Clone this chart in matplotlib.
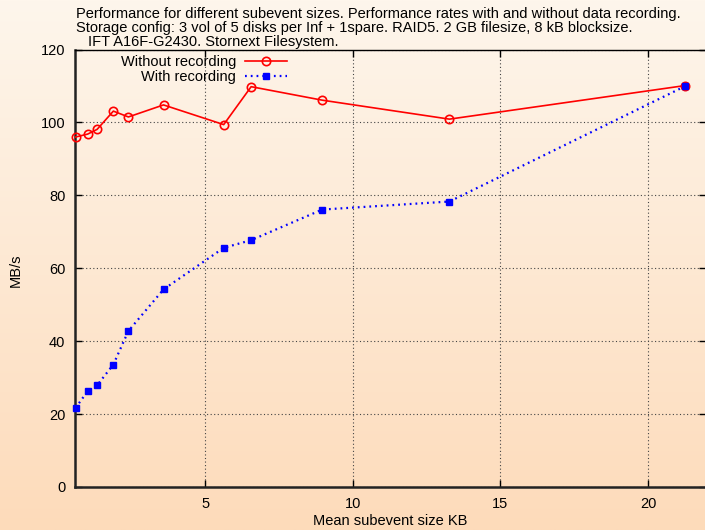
import numpy as np
import matplotlib.pyplot as plt

plt.rcParams['font.family'] = ['Liberation Sans', 'DejaVu Sans']

# mean subevent size (KB) and throughput (MB/s)
subevent_kb = [0.60, 1.01, 1.33, 1.88, 2.39, 3.58, 5.62, 6.55, 8.96, 13.27, 21.25]
rate_without = [96.0, 96.8, 98.1, 103.1, 101.5, 104.8, 99.4, 109.8, 106.1, 100.9, 110.1]
rate_with = [21.7, 26.3, 27.9, 33.6, 42.8, 54.2, 65.6, 67.7, 76.1, 78.3, 109.9]

series_names = ["Without recording", "With recording"]
x_ticks = [5, 10, 15, 20]
y_ticks = [0, 20, 40, 60, 80, 100, 120]

title_lines = [
    "Performance for different subevent sizes. Performance rates with and without data recording.",
    "Storage config: 3 vol of 5 disks per Inf + 1spare. RAID5. 2 GB filesize, 8 kB blocksize.",
    "IFT A16F-G2430. Stornext Filesystem.",
]

FS = 10.5
W, H = 705, 530
fig = plt.figure(figsize=(W / 100, H / 100), dpi=100)

# vertical background gradient, light cream at top to peach at bottom
bg = fig.add_axes([0, 0, 1, 1], zorder=-10)
top = np.array([254, 246, 236]) / 255
bottom = np.array([253, 219, 186]) / 255
t = np.linspace(0, 1, 256)[:, None, None]
grad = top * (1 - t) + bottom * t
bg.imshow(np.repeat(grad, 2, axis=1), aspect='auto', extent=[0, 1, 0, 1])
bg.axis('off')

left, right = 75 / W, 1.002
y_top, y_bot = 49.5, 487
ax = fig.add_axes([left, 1 - y_bot / H, right - left, (y_bot - y_top) / H])
ax.set_facecolor('none')

ax.plot(subevent_kb, rate_without, color='#ff0000', lw=1.2, marker='o',
        ms=6, mfc='none', mec='#ff0000', mew=1.2, label=series_names[0],
        clip_on=False, zorder=3)
ax.plot(subevent_kb, rate_with, color='#0000ff', lw=1.6, ls=(0, (0.8, 1.8)),
        marker='s', ms=5, mfc='#0000ff', mec='#0000ff', label=series_names[1],
        clip_on=False, zorder=3)

ax.set_xlim(0.58, 21.98)
ax.set_ylim(0, 120)
ax.set_xticks(x_ticks)
ax.set_yticks(y_ticks)
ax.tick_params(direction='in', length=5, width=1, top=True, right=True,
               labelsize=FS, colors='black')
ax.tick_params(axis='y', pad=7)
ax.tick_params(axis='x', pad=7)
ax.grid(True, color='#444444', lw=0.8, ls=(0, (1, 2.2)))

for side in ['left', 'bottom']:
    ax.spines[side].set_linewidth(1.8)
    ax.spines[side].set_color('#222222')
ax.spines['top'].set_linewidth(1.0)
ax.spines['right'].set_linewidth(1.0)

# axis titles
fig.text(390 / W, 1 - 521 / H, "Mean subevent size KB", fontsize=FS,
         ha='center', va='center')
fig.text(16 / W, 1 - 270 / H, "MB/s", fontsize=FS, rotation=90,
         ha='center', va='center')

leg = ax.legend(loc='upper right', bbox_to_anchor=(287 / W, 1 - 55 / H),
                bbox_transform=fig.transFigure, markerfirst=False, frameon=False,
                fontsize=FS, handlelength=2.9, handletextpad=0.6,
                labelspacing=0.05, borderpad=0, numpoints=1, borderaxespad=0)

fig.text(76 / W, 1 - 14 / H, title_lines[0], fontsize=FS, va='center', ha='left')
fig.text(76 / W, 1 - 28 / H, title_lines[1], fontsize=FS, va='center', ha='left')
fig.text(88 / W, 1 - 42 / H, title_lines[2], fontsize=FS, va='center', ha='left')

fig.savefig("out.png", dpi=100)
